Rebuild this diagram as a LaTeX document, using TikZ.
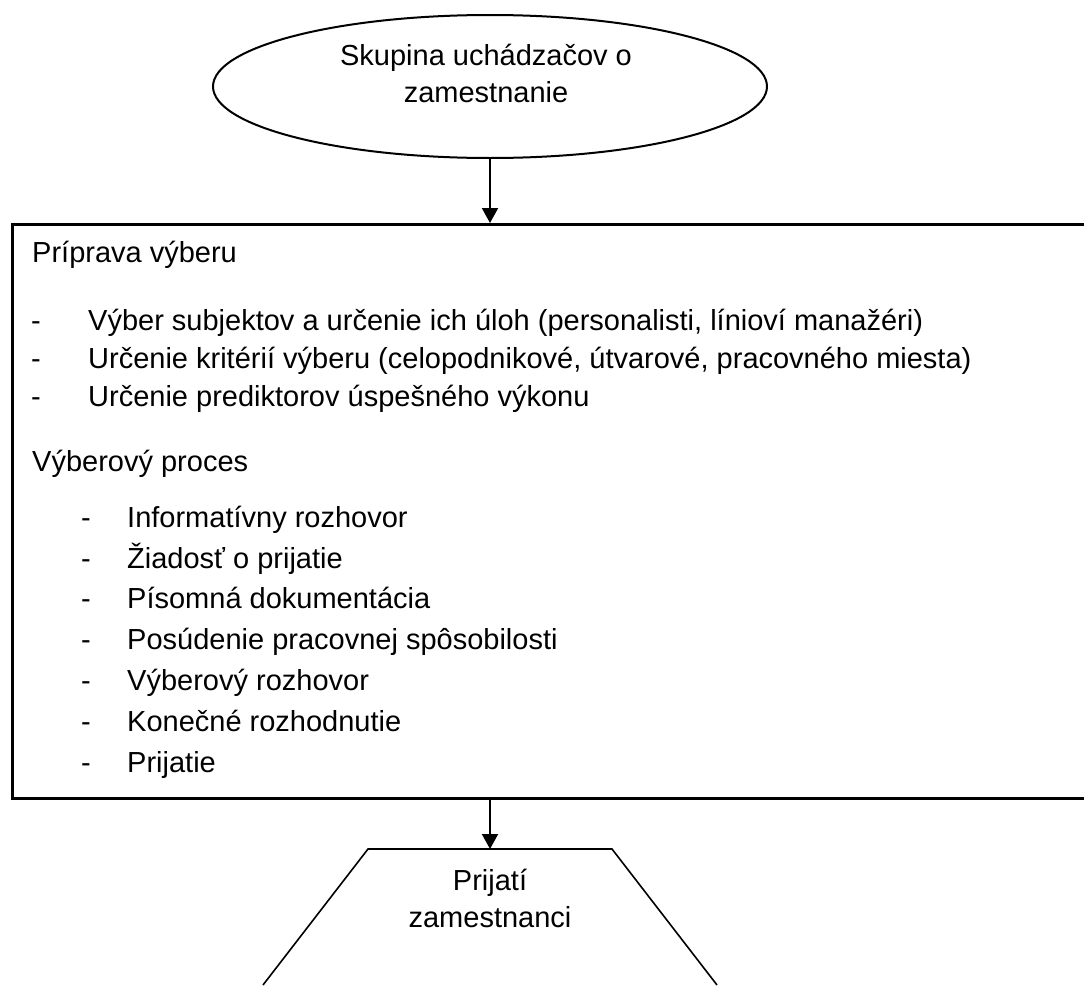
\documentclass[tikz,border=0pt]{standalone}
\usepackage{fontspec}
\setmainfont{Liberation Sans}
\usetikzlibrary{arrows.meta,shapes.geometric}
\begin{document}
\begin{tikzpicture}[x=1pt,y=-1pt,
  every node/.style={font=\fontsize{29}{37}\selectfont},
  txt/.style={anchor=base west,inner sep=0pt},
  dashmark/.style={anchor=base west,inner sep=0pt},
  flow/.style={line width=2pt,-{Triangle[width=16pt,length=15pt]}},
]
\useasboundingbox (0,0) rectangle (1084,985);
\clip (0,0) rectangle (1084,985);

% start ellipse
\node[draw,ellipse,line width=2pt,minimum width=554pt,minimum height=143pt,inner sep=0pt]
  (start) at (490,86.5) {};
\node[align=center,inner sep=0pt] (startlbl) at (486,73) {Skupina uchádzačov o\\zamestnanie};

% main box, running past the right edge
\node[draw,line width=3pt,anchor=north west,minimum width=1100pt,minimum height=574pt,inner sep=0pt]
  (box) at (11,223) {};

\node[txt] (h1) at (32,262) {Príprava výberu};
\node[dashmark] (d11) at (31,330) {-};
\node[txt] (t11) at (88,330) {Výber subjektov a určenie ich úloh (personalisti, línioví manažéri)};
\node[dashmark] (d12) at (31,368) {-};
\node[txt] (t12) at (88,368) {Určenie kritérií výberu (celopodnikové, útvarové, pracovného miesta)};
\node[dashmark] (d13) at (31,406) {-};
\node[txt] (t13) at (88,406) {Určenie prediktorov úspešného výkonu};

\node[txt] (h2) at (32,471) {Výberový proces};
\node[dashmark] (d21) at (81,527) {-};
\node[txt] (t21) at (127,527) {Informatívny rozhovor};
\node[dashmark] (d22) at (81,568) {-};
\node[txt] (t22) at (127,568) {Žiadosť o prijatie};
\node[dashmark] (d23) at (81,608) {-};
\node[txt] (t23) at (127,608) {Písomná dokumentácia};
\node[dashmark] (d24) at (81,649) {-};
\node[txt] (t24) at (127,649) {Posúdenie pracovnej spôsobilosti};
\node[dashmark] (d25) at (81,690) {-};
\node[txt] (t25) at (127,690) {Výberový rozhovor};
\node[dashmark] (d26) at (81,731) {-};
\node[txt] (t26) at (127,731) {Konečné rozhodnutie};
\node[dashmark] (d27) at (81,772) {-};
\node[txt] (t27) at (127,772) {Prijatie};

% result trapezoid, cut off at the lower edge
\coordinate (endtop) at (490,849);
\draw[line width=1.6pt,line join=miter] (263,985) -- (368,849) -- (612,849) -- (717,985);
\node[align=center,inner sep=0pt] (endlbl) at (490,898) {Prijatí\\zamestnanci};

% connectors
\draw[flow] (start.south) -- (start.south |- box.north);
\draw[flow] (box.south -| endtop) -- (endtop);
\end{tikzpicture}
\end{document}
